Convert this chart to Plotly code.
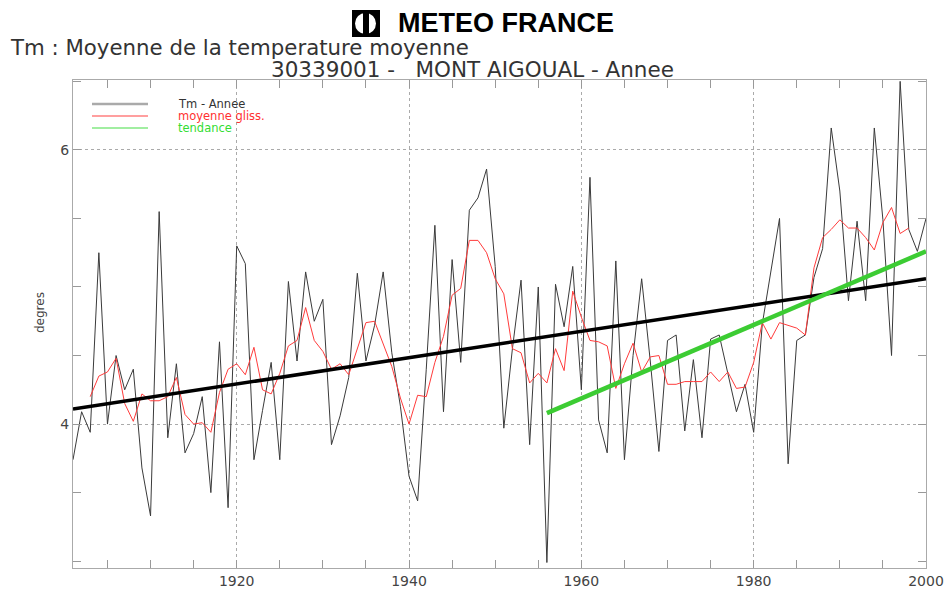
import plotly.graph_objects as go

# annual mean temperature, Mont Aigoual, 1901-2000
years = list(range(1901, 2001))
tm_annee = [
    3.74, 4.09, 3.94, 5.25, 4.00, 4.50, 4.25, 4.40, 3.68, 3.33,
    5.55, 3.90, 4.44, 3.79, 3.93, 4.20, 3.50, 4.60, 3.39, 5.30,
    5.17, 3.74, 4.10, 4.45, 3.74, 5.04, 4.46, 5.11, 4.75, 4.91,
    3.85, 4.06, 4.34, 5.10, 4.46, 4.72, 5.11, 4.52, 4.13, 3.62,
    3.44, 4.40, 5.45, 4.09, 5.20, 4.45, 5.56, 5.65, 5.86, 5.15,
    3.97, 4.55, 5.05, 3.85, 5.00, 2.99, 5.02, 4.71, 5.15, 4.25,
    5.80, 4.03, 3.79, 5.19, 3.74, 4.50, 5.06, 4.46, 3.80, 4.61,
    4.65, 3.95, 4.47, 3.90, 4.62, 4.65, 4.37, 4.09, 4.29, 3.94,
    4.73, 5.12, 5.50, 3.71, 4.61, 4.65, 5.07, 5.28, 6.16, 5.70,
    4.90, 5.48, 4.90, 6.16, 5.49, 4.50, 6.50, 5.42, 5.26, 5.50,
]

# moyenne glissante, 1903-1998
gliss_years = list(range(1903, 1999))
moyenne_gliss = [
    4.20, 4.35, 4.38, 4.48, 4.15, 4.02, 4.22, 4.17, 4.17, 4.20,
    4.34, 4.07, 4.00, 4.01, 3.94, 4.23, 4.40, 4.44, 4.36, 4.56,
    4.25, 4.22, 4.37, 4.57, 4.61, 4.85, 4.61, 4.53, 4.40, 4.44,
    4.36, 4.55, 4.74, 4.75, 4.58, 4.42, 4.19, 4.00, 4.21, 4.20,
    4.45, 4.64, 4.94, 4.99, 5.34, 5.34, 5.25, 5.06, 4.95, 4.55,
    4.52, 4.30, 4.37, 4.30, 4.55, 4.39, 4.97, 4.78, 4.61, 4.60,
    4.57, 4.26, 4.44, 4.59, 4.38, 4.49, 4.50, 4.29, 4.29, 4.31,
    4.31, 4.31, 4.38, 4.31, 4.38, 4.26, 4.27, 4.45, 4.74, 4.62,
    4.74, 4.72, 4.70, 4.65, 5.14, 5.36, 5.42, 5.49, 5.43, 5.43,
    5.36, 5.27, 5.47, 5.58, 5.39, 5.43,
]

# trend lines (end points)
trend_all_years = [1901, 2000]
trend_all_vals = [4.11, 5.06]
trend_recent_years = [1956, 2000]
trend_recent_vals = [4.08, 5.26]

FONT = "DejaVu Sans"
TXT = "#444444"

fig = go.Figure()
fig.add_trace(go.Scatter(x=years, y=tm_annee, mode="lines",
                         line=dict(color="#3a3a3a", width=1), showlegend=False))
fig.add_trace(go.Scatter(x=gliss_years, y=moyenne_gliss, mode="lines",
                         line=dict(color="#ff3b3b", width=1), showlegend=False))
fig.add_trace(go.Scatter(x=trend_all_years, y=trend_all_vals, mode="lines",
                         line=dict(color="#000000", width=3.5), showlegend=False))
fig.add_trace(go.Scatter(x=trend_recent_years, y=trend_recent_vals, mode="lines",
                         line=dict(color="#3ccc33", width=4.5), showlegend=False))

# plot area in pixels: x 73..926, y 80..568
def px(x):
    return (x - 73) / 853

def py(y):
    return (568 - y) / 488

shapes = []
# hand-drawn legend
legend_items = [("Tm - Annee", "#aaaaaa", 2.5, "#333333", 104),
                ("moyenne gliss.", "#ff4040", 1.2, "#ff3030", 116),
                ("tendance", "#44dd44", 1.2, "#33dd33", 128)]
annotations = []
for label, lc, lw, tc, yy in legend_items:
    shapes.append(dict(type="line", xref="paper", yref="paper",
                       x0=px(92), x1=px(148), y0=py(yy), y1=py(yy),
                       line=dict(color=lc, width=lw)))
    annotations.append(dict(text=label, xref="paper", yref="paper",
                            x=px(176), y=py(yy), xanchor="left", yanchor="middle",
                            showarrow=False, font=dict(family=FONT, size=11.5, color=tc)))

# logo
shapes.append(dict(type="rect", xref="paper", yref="paper",
                   x0=px(352), x1=px(380), y0=py(37), y1=py(10),
                   fillcolor="black", line=dict(width=0)))
shapes.append(dict(type="circle", xref="paper", yref="paper",
                   x0=px(355), x1=px(376), y0=py(34), y1=py(13),
                   fillcolor="white", line=dict(width=0)))
shapes.append(dict(type="rect", xref="paper", yref="paper",
                   x0=px(363), x1=px(369), y0=py(34), y1=py(13),
                   fillcolor="black", line=dict(width=0)))

annotations += [
    dict(text="<b>METEO FRANCE</b>", xref="paper", yref="paper",
         x=px(396), y=py(23), xanchor="left", yanchor="middle", showarrow=False,
         font=dict(family="Liberation Sans", size=27, color="black")),
    dict(text="Tm : Moyenne de la temperature moyenne", xref="paper", yref="paper",
         x=px(8), y=py(48), xanchor="left", yanchor="middle", showarrow=False,
         font=dict(family=FONT, size=21.3, color="#333333")),
    dict(text="30339001 -   MONT AIGOUAL - Annee", xref="paper", yref="paper",
         x=px(472), y=py(69), xanchor="center", yanchor="middle", showarrow=False,
         font=dict(family=FONT, size=21.5, color="#333333")),
    dict(text="degres", xref="paper", yref="paper",
         x=px(40), y=py(313), xanchor="center", yanchor="middle", showarrow=False,
         textangle=-90, font=dict(family=FONT, size=12, color=TXT)),
]

fig.update_layout(
    width=949, height=592,
    margin=dict(l=73, r=23, t=80, b=24),
    paper_bgcolor="white", plot_bgcolor="white",
    shapes=shapes, annotations=annotations,
    showlegend=False,
    xaxis=dict(range=[1901, 2000], tick0=1900, dtick=20,
               showgrid=True, gridcolor="#aaaaaa", griddash="dot", gridwidth=1,
               showline=True, linecolor="#aaaaaa", linewidth=1, mirror="ticks",
               ticks="inside", ticklen=8, tickcolor="#999999",
               minor=dict(dtick=5, ticks="inside", ticklen=8, tickcolor="#999999",
                          showgrid=False),
               zeroline=False, automargin=False,
               tickfont=dict(family=FONT, size=14, color=TXT)),
    yaxis=dict(range=[2.95, 6.51], tick0=0, dtick=2,
               showgrid=True, gridcolor="#aaaaaa", griddash="dot", gridwidth=1,
               showline=True, linecolor="#aaaaaa", linewidth=1, mirror="ticks",
               ticks="inside", ticklen=8, tickcolor="#999999",
               minor=dict(dtick=0.5, ticks="inside", ticklen=8, tickcolor="#999999",
                          showgrid=False),
               zeroline=False, automargin=False,
               tickfont=dict(family=FONT, size=14, color=TXT)),
)

# the page body has a default 8px margin; remove it so the figure fills the window
fig.write_html("out.html", config={"displayModeBar": False},
               post_script="document.body.style.margin='0';")
